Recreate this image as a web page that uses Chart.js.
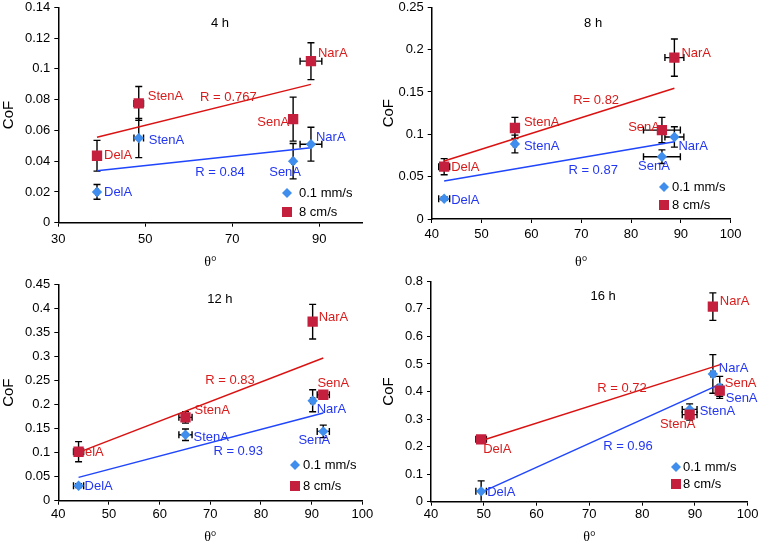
<!DOCTYPE html>
<html><head><meta charset="utf-8">
<script src="https://cdn.jsdelivr.net/npm/chart.js@4/dist/chart.umd.min.js"></script>
<style>
html,body{margin:0;padding:0;background:#fff}
body{width:760px;height:548px;position:relative;overflow:hidden}
canvas{position:absolute}
</style></head><body>
<canvas id="c0" width="380" height="274" style="left:0;top:0"></canvas>
<canvas id="c1" width="380" height="274" style="left:380px;top:0"></canvas>
<canvas id="c2" width="380" height="274" style="left:0;top:274px"></canvas>
<canvas id="c3" width="380" height="274" style="left:380px;top:274px"></canvas>
<script>
// ---------- DATA ----------
const compounds = ['DelA', 'StenA', 'SenA', 'NarA'];
const seriesNames = ['0.1 mm/s', '8 cm/s'];
const panelTitles = ['4 h', '8 h', '12 h', '16 h'];

// 4 h
const theta4h = [38.9, 48.5, 84.0, 88.1];
const thetaErr4h = [0.3, 1.1, 0.3, 2.5];
const cofSlow4h = [0.020, 0.055, 0.040, 0.051];
const cofSlowErr4h = [0.0048, 0.0127, 0.0115, 0.011];
const cofFast4h = [0.0435, 0.0775, 0.0673, 0.105];
const cofFastErr4h = [0.010, 0.011, 0.0143, 0.012];
const trendX4h = [38.9, 88.1];
const trendSlow4h = [0.0338, 0.0487];
const trendFast4h = [0.0555, 0.0899];
const rSlow4h = 'R = 0.84';
const rFast4h = 'R = 0.767';
const xTicks4h = [30, 50, 70, 90];
const yTicks4h = [0, 0.02, 0.04, 0.06, 0.08, 0.1, 0.12, 0.14];

// 8 h
const theta8h = [42.5, 56.7, 86.2, 88.7];
const thetaErr8h = [1.1, 0.3, 3.7, 1.9];
const cofSlow8h = [0.024, 0.0886, 0.0736, 0.0969];
const cofSlowErr8h = [0.002, 0.0105, 0.008, 0.012];
const cofFast8h = [0.0618, 0.1075, 0.105, 0.1906];
const cofFastErr8h = [0.0095, 0.0125, 0.015, 0.022];
const trendX8h = [42.5, 88.7];
const trendSlow8h = [0.0449, 0.0913];
const trendFast8h = [0.0685, 0.1543];
const rSlow8h = 'R = 0.87';
const rFast8h = 'R= 0.82';
const xTicks8h = [40, 50, 60, 70, 80, 90, 100];
const yTicks8h = [0, 0.05, 0.1, 0.15, 0.2, 0.25];

// 12 h
const theta12h = [44.0, 65.1, 92.3, 90.2];
const thetaErr12h = [1.0, 1.3, 1.2, 0.4];
const cofSlow12h = [0.0313, 0.1375, 0.1444, 0.2083];
const cofSlowErr12h = [0.004, 0.012, 0.013, 0.023];
const cofFast12h = [0.102, 0.1736, 0.2208, 0.373];
const cofFastErr12h = [0.021, 0.012, 0.006, 0.036];
const trendX12h = [44.0, 92.3];
const trendSlow12h = [0.0486, 0.1826];
const trendFast12h = [0.1007, 0.2972];
const rSlow12h = 'R = 0.93';
const rFast12h = 'R = 0.83';
const xTicks12h = [40, 50, 60, 70, 80, 90, 100];
const yTicks12h = [0, 0.05, 0.1, 0.15, 0.2, 0.25, 0.3, 0.35, 0.4, 0.45];

// 16 h
const theta16h = [49.5, 89.0, 94.7, 93.4];
const thetaErr16h = [1.0, 1.4, 0.4, 0.4];
const cofSlow16h = [0.0375, 0.335, 0.415, 0.4637];
const cofSlowErr16h = [0.038, 0.02, 0.04, 0.07];
const cofFast16h = [0.2264, 0.316, 0.403, 0.708];
const cofFastErr16h = [0.01, 0.02, 0.02, 0.05];
const trendX16h = [49.5, 94.8];
const trendSlow16h = [0.0339, 0.427];
const trendFast16h = [0.2215, 0.4976];
const rSlow16h = 'R = 0.96';
const rFast16h = 'R = 0.72';
const xTicks16h = [40, 50, 60, 70, 80, 90, 100];
const yTicks16h = [0, 0.1, 0.2, 0.3, 0.4, 0.5, 0.6, 0.7, 0.8];

// ---------- STYLE / LAYOUT ----------
const FONT = "'Liberation Sans', Arial, Helvetica, sans-serif";
const RED_MARK = '#C4203E', BLUE_MARK = '#3F8DEC';
const RED_LINE = '#DA1212', BLUE_LINE = '#1F45FF';
const RED_TEXT = '#D81C1C', BLUE_TEXT = '#2437F0';
Chart.defaults.font.family = FONT;
Chart.defaults.font.size = 13;
Chart.defaults.color = '#000';

const panels = [
  { id: 'c0', title: panelTitles[0], theta: theta4h, thetaErr: thetaErr4h,
    slow: cofSlow4h, slowErr: cofSlowErr4h, fast: cofFast4h, fastErr: cofFastErr4h,
    trendX: trendX4h, trendSlow: trendSlow4h, trendFast: trendFast4h, rSlow: rSlow4h, rFast: rFast4h,
    xTicks: xTicks4h, yTicks: yTicks4h, xMin: 30, xMax: 100,
    box: { left: 58.3, right: 362.7, top: 7.3, bottom: 222.7 },
    titlePos: [67.2, 0.1297], rFastPos: [69.1, 0.0816], rSlowPos: [67.2, 0.0329],
    legend: [287, 193, 212, 12], xTickPad: 5, xTitlePad: 3,
    fastLab: [[7, 0, 'left'], [9, -7, 'left'], [-4, 3, 'right'], [7, -8, 'left']],
    slowLab: [[7, 0, 'left'], [10, 2, 'left'], [-8, 11, 'center'], [5, -7, 'left']] },
  { id: 'c1', title: panelTitles[1], theta: theta8h, thetaErr: thetaErr8h,
    slow: cofSlow8h, slowErr: cofSlowErr8h, fast: cofFast8h, fastErr: cofFastErr8h,
    trendX: trendX8h, trendSlow: trendSlow8h, trendFast: trendFast8h, rSlow: rSlow8h, rFast: rFast8h,
    xTicks: xTicks8h, yTicks: yTicks8h, xMin: 40, xMax: 100,
    box: { left: 51.7, right: 350.7, top: 7.3, bottom: 219 },
    titlePos: [72.4, 0.2315], rFastPos: [73.0, 0.1405], rSlowPos: [72.4, 0.0579],
    legend: [284, 187, 205, 8], xTickPad: 4, xTitlePad: 3,
    fastLab: [[7, 1, 'left'], [9, -6, 'left'], [-2, -3, 'right'], [7, -4, 'left']],
    slowLab: [[7, 2, 'left'], [9, 2, 'left'], [-8, 10, 'center'], [4, 9, 'left']] },
  { id: 'c2', title: panelTitles[2], theta: theta12h, thetaErr: thetaErr12h,
    slow: cofSlow12h, slowErr: cofSlowErr12h, fast: cofFast12h, fastErr: cofFastErr12h,
    trendX: trendX12h, trendSlow: trendSlow12h, trendFast: trendFast12h, rSlow: rSlow12h, rFast: rFast12h,
    xTicks: xTicks12h, yTicks: yTicks12h, xMin: 40, xMax: 100,
    box: { left: 58.3, right: 362.3, top: 10.7, bottom: 226.7 },
    titlePos: [71.9, 0.42], rFastPos: [73.9, 0.2515], rSlowPos: [75.5, 0.1035],
    legend: [295, 191, 212, 8], xTickPad: 2, xTitlePad: 2,
    fastLab: [[-3, 1, 'left'], [9, -7, 'left'], [10, -11, 'center'], [6, -4, 'left']],
    slowLab: [[6, 1, 'left'], [8, 3, 'left'], [-9, 9, 'center'], [4, 9, 'left']] },
  { id: 'c3', title: panelTitles[3], theta: theta16h, thetaErr: thetaErr16h,
    slow: cofSlow16h, slowErr: cofSlowErr16h, fast: cofFast16h, fastErr: cofFastErr16h,
    trendX: trendX16h, trendSlow: trendSlow16h, trendFast: trendFast16h, rSlow: rSlow16h, rFast: rFast16h,
    xTicks: xTicks16h, yTicks: yTicks16h, xMin: 40, xMax: 100,
    box: { left: 51, right: 367.7, top: 7.3, bottom: 227.7 },
    titlePos: [72.6, 0.7436], rFastPos: [76.2, 0.4094], rSlowPos: [77.3, 0.2023],
    legend: [296, 193, 210, 7], xTickPad: 1, xTitlePad: 2,
    fastLab: [[2, 10, 'left'], [-12, 10, 'center'], [5, -7, 'left'], [7, -5, 'left']],
    slowLab: [[6, 1, 'left'], [10, 2, 'left'], [6, 11, 'left'], [6, -6, 'left']] }
];

function drawMarker(ctx, style, x, y, r, color) {
  ctx.fillStyle = color;
  ctx.beginPath();
  if (style === 'rect') {
    ctx.rect(x - r, y - r, 2 * r, 2 * r);
  } else {
    ctx.moveTo(x, y - r); ctx.lineTo(x + r, y); ctx.lineTo(x, y + r); ctx.lineTo(x - r, y); ctx.closePath();
  }
  ctx.fill();
}

const annotPlugin = {
  id: 'annot',
  beforeDatasetsDraw(chart, args, o) {
    const ctx = chart.ctx, xs = chart.scales.x, ys = chart.scales.y, ca = chart.chartArea;
    ctx.save();
    ctx.beginPath(); ctx.rect(ca.left - 1, ca.top - 20, ca.right - ca.left + 30, ca.bottom - ca.top + 19); ctx.clip();
    // error bars
    ctx.strokeStyle = '#000'; ctx.lineWidth = 1.4;
    chart.data.datasets.forEach(ds => {
      if (!ds.errY) return;
      ds.data.forEach((p, j) => {
        const px = xs.getPixelForValue(p.x), py = ys.getPixelForValue(p.y);
        const ey = ds.errY[j], ex = ds.errX[j], cap = 3.5;
        ctx.beginPath();
        if (ey > 0) {
          const y1 = ys.getPixelForValue(p.y + ey), y2 = ys.getPixelForValue(p.y - ey);
          ctx.moveTo(px, y1); ctx.lineTo(px, y2);
          ctx.moveTo(px - cap, y1); ctx.lineTo(px + cap, y1);
          ctx.moveTo(px - cap, y2); ctx.lineTo(px + cap, y2);
        }
        if (ex > 0) {
          const x1 = xs.getPixelForValue(p.x - ex), x2 = xs.getPixelForValue(p.x + ex);
          ctx.moveTo(x1, py); ctx.lineTo(x2, py);
          ctx.moveTo(x1, py - cap); ctx.lineTo(x1, py + cap);
          ctx.moveTo(x2, py - cap); ctx.lineTo(x2, py + cap);
        }
        ctx.stroke();
      });
    });
    ctx.restore();
    // point labels
    ctx.save();
    ctx.font = '13px ' + FONT;
    ctx.textBaseline = 'middle';
    chart.data.datasets.forEach(ds => {
      if (!ds.labelPos) return;
      ctx.fillStyle = ds.labelColor;
      ds.data.forEach((p, j) => {
        const px = xs.getPixelForValue(p.x), py = ys.getPixelForValue(p.y);
        const [dx, dy, al] = ds.labelPos[j];
        ctx.textAlign = al;
        ctx.fillText(compounds[j], px + dx, py + dy);
      });
    });
    ctx.restore();
  },
  afterDatasetsDraw(chart, args, o) {
    const ctx = chart.ctx, xs = chart.scales.x, ys = chart.scales.y;
    const P = o.panel;
    ctx.save();
    ctx.font = '13px ' + FONT;
    ctx.textBaseline = 'middle';
    ctx.textAlign = 'center';
    ctx.fillStyle = '#000';
    ctx.fillText(P.title, xs.getPixelForValue(P.titlePos[0]), ys.getPixelForValue(P.titlePos[1]));
    ctx.fillStyle = RED_TEXT;
    ctx.fillText(P.rFast, xs.getPixelForValue(P.rFastPos[0]), ys.getPixelForValue(P.rFastPos[1]));
    ctx.fillStyle = BLUE_TEXT;
    ctx.fillText(P.rSlow, xs.getPixelForValue(P.rSlowPos[0]), ys.getPixelForValue(P.rSlowPos[1]));
    // legend
    const [lx, ly1, ly2, gap] = P.legend;
    drawMarker(ctx, 'rectRot', lx, ly1, 5, BLUE_MARK);
    drawMarker(ctx, 'rect', lx, ly2, 5, RED_MARK);
    ctx.fillStyle = '#000';
    ctx.textAlign = 'left';
    ctx.fillText(seriesNames[0], lx + gap, ly1);
    ctx.fillText(seriesNames[1], lx + gap, ly2);
    ctx.restore();
  }
};

panels.forEach(P => {
  const H = 274, W = 380;
  const pts = (xArr, yArr) => xArr.map((x, i) => ({ x: x, y: yArr[i] }));
  new Chart(document.getElementById(P.id), {
    type: 'scatter',
    data: {
      datasets: [
        { label: seriesNames[1], data: pts(P.theta, P.fast), errY: P.fastErr, errX: P.thetaErr,
          labelPos: P.fastLab, labelColor: RED_TEXT,
          pointStyle: 'rect', pointRadius: 7.3, backgroundColor: RED_MARK, borderWidth: 0, pointBorderWidth: 0 },
        { label: seriesNames[0], data: pts(P.theta, P.slow), errY: P.slowErr, errX: P.thetaErr,
          labelPos: P.slowLab, labelColor: BLUE_TEXT,
          pointStyle: 'rectRot', pointRadius: 5.2, backgroundColor: BLUE_MARK, borderWidth: 0, pointBorderWidth: 0 },
        { label: 'trend fast', data: pts(P.trendX, P.trendFast), showLine: true, pointRadius: 0,
          borderColor: RED_LINE, borderWidth: 1.5, fill: false },
        { label: 'trend slow', data: pts(P.trendX, P.trendSlow), showLine: true, pointRadius: 0,
          borderColor: BLUE_LINE, borderWidth: 1.5, fill: false }
      ]
    },
    options: {
      responsive: false, animation: false, devicePixelRatio: 1,
      layout: { padding: { top: P.box.top, right: W - P.box.right, left: 0, bottom: 0 } },
      plugins: { legend: { display: false }, tooltip: { enabled: false }, annot: { panel: P } },
      scales: {
        x: {
          type: 'linear', min: P.xMin, max: P.xMax,
          afterBuildTicks: s => { s.ticks = P.xTicks.map(v => ({ value: v })); },
          afterFit: s => { s.height = H - P.box.bottom; s.paddingLeft = 0; s.paddingRight = 0; s.paddingTop = 0; s.paddingBottom = 0; },
          grid: { display: true, drawOnChartArea: false, drawTicks: true, tickLength: 4, color: '#000', lineWidth: 1 },
          border: { display: true, color: '#000', width: 1.5 },
          ticks: { color: '#000', font: { size: 13 }, padding: P.xTickPad, maxRotation: 0, autoSkip: false, callback: v => String(v) },
          title: { display: true, text: 'θ°', color: '#000', font: { family: "'Liberation Serif', 'Times New Roman', serif", size: 14 }, padding: { top: 0, bottom: P.xTitlePad } }
        },
        y: {
          type: 'linear', min: P.yTicks[0], max: P.yTicks[P.yTicks.length - 1],
          afterBuildTicks: s => { s.ticks = P.yTicks.map(v => ({ value: v })); },
          afterFit: s => { s.width = P.box.left; s.paddingLeft = 0; s.paddingRight = 0; s.paddingTop = 0; s.paddingBottom = 0; },
          grid: { display: true, drawOnChartArea: false, drawTicks: true, tickLength: 4, color: '#000', lineWidth: 1 },
          border: { display: true, color: '#000', width: 1.5 },
          ticks: { color: '#000', font: { size: 13 }, padding: 4, autoSkip: false, callback: v => String(v) },
          title: { display: true, text: 'CoF', color: '#000', font: { size: 15 }, padding: { top: 0, bottom: 0 } }
        }
      }
    },
    plugins: [annotPlugin]
  });
});
</script>
</body></html>
